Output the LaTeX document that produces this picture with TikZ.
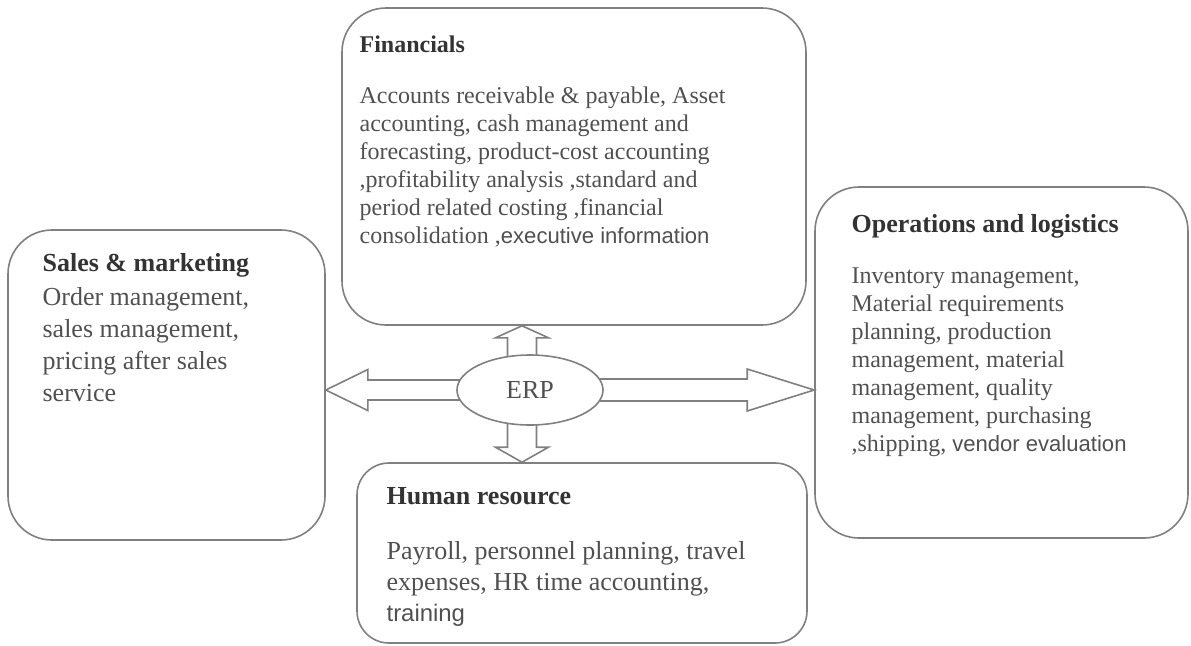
\documentclass[tikz,border=0pt]{standalone}
\usepackage{fontspec}
\setmainfont{Liberation Serif}
\newfontfamily\plainsans[Scale=0.92]{Liberation Sans}
\usetikzlibrary{positioning,calc,backgrounds,shapes.geometric}

\definecolor{boxgray}{HTML}{808080}
\definecolor{txtgray}{HTML}{505050}
\definecolor{headgray}{HTML}{333333}

\tikzset{
  module/.style={draw=boxgray, line width=0.8pt, rounded corners=22pt},
  headtxt/.style={font=\fontsize{#1}{14}\selectfont\bfseries, text=headgray, inner sep=0pt, anchor=west},
  headtxt/.default=12,
  bodytxt/.style 2 args={font=\fontsize{#1}{#2}\selectfont, text=txtgray, inner sep=0pt, anchor=north west, align=left},
  erpnode/.style={draw=boxgray, line width=0.8pt, ellipse, fill=white, text=txtgray,
    minimum width=73pt, minimum height=35pt, inner sep=0pt, font=\fontsize{13}{15}\selectfont},
  blockarrow/.style={draw=boxgray, line width=0.8pt, fill=white, line join=miter}
}

% tail, tip, shaft half width, head half width, head length
\newcommand{\blockarr}[5]{%
  \coordinate (ah) at ($(#2)!#5!(#1)$);
  \draw[blockarrow] ($(#1)!#3!90:(#2)$) -- ($(ah)!#3!-90:(#1)$) -- ($(ah)!#4!-90:(#1)$)
    -- (#2) -- ($(ah)!#4!90:(#1)$) -- ($(ah)!#3!90:(#1)$) -- ($(#1)!#3!-90:(#2)$) -- cycle;}

\begin{document}
\begin{tikzpicture}[x=0.5pt,y=-0.5pt]
\useasboundingbox (0,0) rectangle (1191,645);

% the four modules
\node[module, minimum width=232pt, minimum height=158.5pt] (fin) at (574,166.5) {};
\node[module, minimum width=158.5pt, minimum height=155pt] (sales) at (166.5,385) {};
\node[module, minimum width=186.5pt, minimum height=175.5pt] (ops) at (1001.5,362.5) {};
\node[module, minimum width=225pt, minimum height=90pt, rounded corners=16pt] (hr) at (582,553) {};

\node[erpnode] (erp) at (530,390) {ERP};

% texts
\node[headtxt] (finT) at ($(fin.north west)+(18,37)$) {Financials};
\node[bodytxt={12}{14}] (finB) at ($(fin.north west)+(18,79)$)
  {Accounts receivable \& payable, Asset\\
   accounting, cash management and\\
   forecasting, product-cost accounting\\
   ,profitability analysis ,standard and\\
   period related costing ,financial\\
   consolidation ,{\plainsans executive information}};

\node[headtxt=13] (salesT) at ($(sales.north west)+(35,36)$) {Sales \& marketing};
\node[bodytxt={13}{16}] (salesB) at ($(sales.north west)+(35,58)$)
  {Order management,\\
   sales management,\\
   pricing after sales\\
   service};

\node[headtxt=13] (opsT) at ($(ops.north west)+(37,40)$) {Operations and logistics};
\node[bodytxt={12}{14}] (opsB) at ($(ops.north west)+(37,81)$)
  {Inventory management,\\
   Material requirements\\
   planning, production\\
   management, material\\
   management, quality\\
   management, purchasing\\
   ,shipping, {\plainsans vendor evaluation}};

\node[headtxt=13] (hrT) at ($(hr.north west)+(30,34)$) {Human resource};
\node[bodytxt={13}{15.5}] (hrB) at ($(hr.north west)+(30,79)$)
  {Payroll, personnel planning, travel\\
   expenses, HR time accounting,\\
   {\plainsans training}};

% block arrows out of ERP
\begin{scope}[on background layer]
  \coordinate (vx) at ($(erp.center)+(-8,0)$);
  \blockarr{erp.center}{ops.west |- erp.center}{5.5pt}{10.5pt}{33.5pt}
  \blockarr{erp.center}{sales.east |- erp.center}{5pt}{10.25pt}{21pt}
  \blockarr{vx}{vx |- fin.south}{7.25pt}{13.25pt}{6pt}
  \blockarr{vx}{vx |- hr.north}{7.25pt}{13.25pt}{7.5pt}
\end{scope}

\end{tikzpicture}
\end{document}
